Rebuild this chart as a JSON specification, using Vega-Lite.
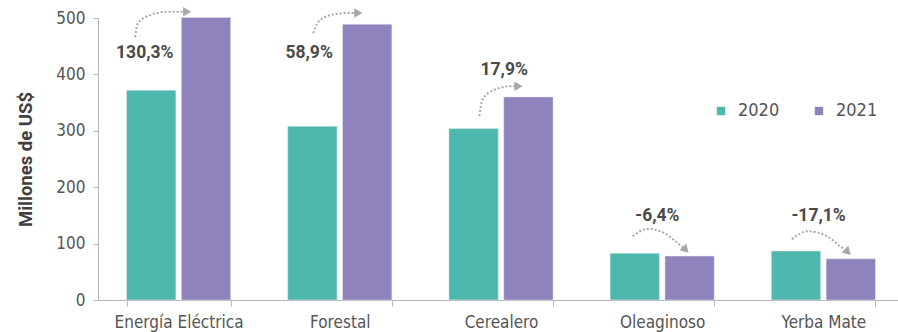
{
  "$schema": "https://vega.github.io/schema/vega-lite/v6.json",
  "width": 806,
  "height": 282,
  "autosize": {"type": "none"},
  "padding": {"left": 98, "top": 18, "right": 0, "bottom": 32},
  "background": "white",
  "config": {
    "view": {"stroke": null},
    "font": "Liberation Sans Narrow, DejaVu Sans Condensed, sans-serif"
  },
  "datasets": {
    "bars": [
      {"cat": "Energía Eléctrica", "year": "2020", "value": 372},
      {"cat": "Energía Eléctrica", "year": "2021", "value": 501},
      {"cat": "Forestal", "year": "2020", "value": 308},
      {"cat": "Forestal", "year": "2021", "value": 489},
      {"cat": "Cerealero", "year": "2020", "value": 304},
      {"cat": "Cerealero", "year": "2021", "value": 360},
      {"cat": "Oleaginoso", "year": "2020", "value": 83},
      {"cat": "Oleaginoso", "year": "2021", "value": 78},
      {"cat": "Yerba Mate", "year": "2020", "value": 87},
      {"cat": "Yerba Mate", "year": "2021", "value": 73}
    ],
    "labels": [
      {"pos": 0.29, "val": 438, "label": "130,3%"},
      {"pos": 1.31, "val": 438, "label": "58,9%"},
      {"pos": 2.52, "val": 408, "label": "17,9%"},
      {"pos": 3.47, "val": 149, "label": "-6,4%"},
      {"pos": 4.47, "val": 149, "label": "-17,1%"}
    ],
    "arrows": [
      {"id": "a", "ord": 1, "pos": 0.23, "val": 466},
      {"id": "a", "ord": 2, "pos": 0.248, "val": 491},
      {"id": "a", "ord": 3, "pos": 0.323, "val": 505},
      {"id": "a", "ord": 4, "pos": 0.429, "val": 511},
      {"id": "a", "ord": 5, "pos": 0.53, "val": 511},
      {"id": "b", "ord": 1, "pos": 1.335, "val": 473},
      {"id": "b", "ord": 2, "pos": 1.366, "val": 493},
      {"id": "b", "ord": 3, "pos": 1.441, "val": 505},
      {"id": "b", "ord": 4, "pos": 1.547, "val": 509},
      {"id": "b", "ord": 5, "pos": 1.595, "val": 509},
      {"id": "c", "ord": 1, "pos": 2.366, "val": 326},
      {"id": "c", "ord": 2, "pos": 2.385, "val": 355},
      {"id": "c", "ord": 3, "pos": 2.453, "val": 372},
      {"id": "c", "ord": 4, "pos": 2.559, "val": 379},
      {"id": "c", "ord": 5, "pos": 2.59, "val": 379},
      {"id": "d", "ord": 1, "pos": 3.317, "val": 113},
      {"id": "d", "ord": 2, "pos": 3.41, "val": 126},
      {"id": "d", "ord": 3, "pos": 3.51, "val": 119},
      {"id": "d", "ord": 4, "pos": 3.596, "val": 101},
      {"id": "d", "ord": 5, "pos": 3.63, "val": 93},
      {"id": "e", "ord": 1, "pos": 4.304, "val": 108},
      {"id": "e", "ord": 2, "pos": 4.404, "val": 122},
      {"id": "e", "ord": 3, "pos": 4.528, "val": 112},
      {"id": "e", "ord": 4, "pos": 4.609, "val": 94},
      {"id": "e", "ord": 5, "pos": 4.64, "val": 88}
    ],
    "heads": [
      {"id": "a", "dir": "up", "pos": 0.553, "val": 511},
      {"id": "b", "dir": "up", "pos": 1.615, "val": 509},
      {"id": "c", "dir": "up", "pos": 2.609, "val": 379},
      {"id": "d", "dir": "down", "pos": 3.646, "val": 89},
      {"id": "e", "dir": "down", "pos": 4.652, "val": 85}
    ]
  },
  "layer": [
    {
      "data": {"name": "bars"},
      "mark": {"type": "bar", "stroke": "#e8e8e8", "strokeWidth": 0.5},
      "encoding": {
        "x": {
          "field": "cat", "type": "nominal", "sort": null,
          "scale": {"paddingInner": 0.354, "paddingOuter": 0.177},
          "axis": {
            "title": null, "labelAngle": 0, "tickBand": "extent",
            "domainColor": "#b8b8b8", "tickColor": "#b8b8b8", "tickSize": 6,
            "labelFontSize": 17, "labelColor": "#555555", "labelPadding": 8,
            "labelFont": "Liberation Sans Narrow, DejaVu Sans Condensed, sans-serif"
          }
        },
        "xOffset": {"field": "year", "type": "nominal", "scale": {"paddingInner": 0.1}},
        "y": {
          "field": "value", "type": "quantitative",
          "scale": {"domain": [0, 500], "nice": false},
          "axis": {
            "title": "Millones de US$", "values": [0, 100, 200, 300, 400, 500],
            "grid": false, "domainColor": "#b8b8b8", "tickColor": "#b8b8b8", "tickSize": 5,
            "labelFontSize": 17, "labelColor": "#555555", "labelPadding": 8,
            "labelFont": "Liberation Sans Narrow, DejaVu Sans Condensed, sans-serif",
            "titleFont": "Roboto", "titleFontSize": 18.5, "titleFontWeight": "bold",
            "titleColor": "#404040", "titlePadding": 20
          }
        },
        "color": {
          "field": "year", "type": "nominal",
          "scale": {"domain": ["2020", "2021"], "range": ["#4fb8ae", "#8f82bd"]},
          "legend": {
            "title": null, "orient": "none", "legendX": 614, "legendY": 84,
            "direction": "horizontal", "symbolType": "square", "symbolSize": 70,
            "symbolStrokeWidth": 0, "labelFontSize": 18, "labelColor": "#555555",
            "labelFont": "Liberation Sans Narrow, DejaVu Sans Condensed, sans-serif",
            "labelOffset": 8, "columnPadding": 30
          }
        }
      }
    },
    {
      "data": {"name": "labels"},
      "mark": {"type": "text", "font": "Roboto", "fontSize": 17.5, "fontWeight": "bold", "color": "#4a4a4a", "baseline": "middle"},
      "encoding": {
        "x": {"field": "pos", "type": "quantitative", "scale": {"domain": [0, 5], "nice": false, "zero": false}, "axis": null},
        "y": {"field": "val", "type": "quantitative"},
        "text": {"field": "label"}
      }
    },
    {
      "data": {"name": "arrows"},
      "mark": {"type": "line", "interpolate": "monotone", "color": "#a8a8a8", "strokeWidth": 2, "strokeDash": [2, 2]},
      "encoding": {
        "x": {"field": "pos", "type": "quantitative", "scale": {"domain": [0, 5], "nice": false, "zero": false}, "axis": null},
        "y": {"field": "val", "type": "quantitative"},
        "detail": {"field": "id"},
        "order": {"field": "ord"}
      }
    },
    {
      "data": {"name": "heads"},
      "transform": [{"filter": "datum.dir === 'up'"}],
      "mark": {"type": "point", "shape": "triangle-right", "filled": true, "color": "#a8a8a8", "size": 90, "opacity": 1},
      "encoding": {
        "x": {"field": "pos", "type": "quantitative", "scale": {"domain": [0, 5], "nice": false, "zero": false}, "axis": null},
        "y": {"field": "val", "type": "quantitative"}
      }
    },
    {
      "data": {"name": "heads"},
      "transform": [{"filter": "datum.dir === 'down'"}],
      "mark": {"type": "point", "shape": "triangle-up", "angle": 135, "filled": true, "color": "#a8a8a8", "size": 90, "opacity": 1},
      "encoding": {
        "x": {"field": "pos", "type": "quantitative", "scale": {"domain": [0, 5], "nice": false, "zero": false}, "axis": null},
        "y": {"field": "val", "type": "quantitative"}
      }
    }
  ],
  "resolve": {"scale": {"x": "independent"}}
}
